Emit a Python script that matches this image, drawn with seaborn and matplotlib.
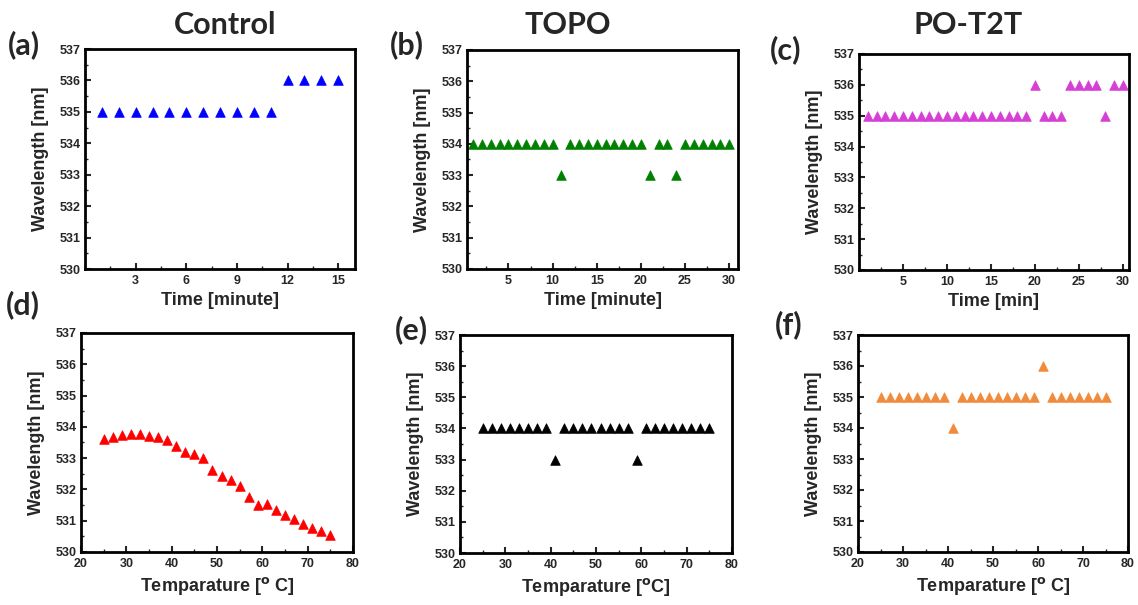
import numpy as np
import pandas as pd
import matplotlib
matplotlib.use("Agg")
import matplotlib.pyplot as plt
from matplotlib.ticker import MultipleLocator
import seaborn as sns

# ---------------- data ----------------
time_control = list(range(1, 16))
wl_control = [535]*11 + [536]*4

time_topo = list(range(1, 31))
wl_topo = [534]*10 + [533] + [534]*9 + [533] + [534, 534] + [533] + [534]*6

time_pot2t = list(range(1, 31))
wl_pot2t = [535]*19 + [536] + [535]*3 + [536]*4 + [535] + [536, 536]

temp = list(range(25, 76, 2))
wl_temp_control = [533.60, 533.68, 533.73, 533.76, 533.76, 533.72, 533.66, 533.57,
                   533.39, 533.19, 533.12, 532.99, 532.61, 532.43, 532.31, 532.11,
                   531.75, 531.51, 531.52, 531.33, 531.19, 531.04, 530.90, 530.77,
                   530.66, 530.55]
wl_temp_topo = [534]*8 + [533] + [534]*8 + [533] + [534]*8
wl_temp_pot2t = [535]*8 + [534] + [535]*9 + [536] + [535]*7

titles = ["Control", "TOPO", "PO-T2T"]
panel_labels = ["(a)", "(b)", "(c)", "(d)", "(e)", "(f)"]
xlabels = ["Time [minute]", "Time [minute]", "Time [min]",
           "Temparature [$^{\\mathrm{o}}$ C]", "Temparature [$^{\\mathrm{o}}$C]",
           "Temparature [$^{\\mathrm{o}}$ C]"]
ylabel = "Wavelength [nm]"
yticks = [530, 531, 532, 533, 534, 535, 536, 537]
xticks_control = [3, 6, 9, 12, 15]
xticks_time30 = [5, 10, 15, 20, 25, 30]
xticks_temp = [20, 30, 40, 50, 60, 70, 80]

# ---------------- style ----------------
sns.set_style("ticks")
plt.rcParams["font.family"] = ["Liberation Sans", "DejaVu Sans"]
plt.rcParams["font.weight"] = "bold"
plt.rcParams["axes.labelweight"] = "bold"

W, H = 1138, 605
fig = plt.figure(figsize=(W/100, H/100), dpi=100)

def box(l, r, t, b):
    return [l/W, 1 - b/H, (r-l)/W, (b-t)/H]

boxes = [box(85, 355, 49, 269), box(467, 738, 50, 269), box(859, 1129, 54, 270),
         box(81, 353, 333, 552), box(460, 732, 335, 553), box(858, 1128, 335, 552)]

datasets = [
    (time_control, wl_control, "#0000FF", (0, 16), xticks_control, 1.5),
    (time_topo, wl_topo, "#008000", (0.3, 31), xticks_time30, 2.5),
    (time_pot2t, wl_pot2t, "#D63FD6", (0, 30.7), xticks_time30, 2.5),
    (temp, wl_temp_control, "#FF0000", (20, 80), xticks_temp, 5),
    (temp, wl_temp_topo, "#000000", (20, 80), xticks_temp, 5),
    (temp, wl_temp_pot2t, "#F28A3C", (20, 80), xticks_temp, 5),
]

label_pos = [(8, 45), (390, 45), (770, 50), (6, 305), (395, 330), (775, 325)]
title_pos = [(225, 25), (568, 25), (968, 25)]

for i, (x, y, c, xlim, xt, mnr) in enumerate(datasets):
    ax = fig.add_axes(boxes[i])
    df = pd.DataFrame({"x": x, "y": y})
    sns.scatterplot(data=df, x="x", y="y", ax=ax, marker="^", color=c,
                    s=48, edgecolor=c, linewidth=0.5)
    ax.set_xlim(*xlim)
    ax.set_ylim(530, 537)
    ax.set_yticks(yticks)
    ax.yaxis.set_minor_locator(MultipleLocator(0.5))
    ax.set_xticks(xt)
    ax.xaxis.set_minor_locator(MultipleLocator(mnr))
    ax.set_xlim(*xlim)
    ax.tick_params(which="both", direction="in", top=False, right=False)
    ax.tick_params(which="major", length=4, width=1.5, labelsize=9)
    ax.tick_params(axis="x", which="major", pad=4)
    ax.tick_params(axis="y", which="major", pad=3)
    ax.tick_params(which="minor", length=2.5, width=1)
    for lab in ax.get_xticklabels() + ax.get_yticklabels():
        lab.set_fontweight("bold")
    for sp in ax.spines.values():
        sp.set_linewidth(2)
        sp.set_color("black")
    ax.set_xlabel(xlabels[i], fontsize=13, fontweight="bold", labelpad=4)
    ax.set_ylabel(ylabel, fontsize=13, fontweight="bold", labelpad=8)
    px, py = label_pos[i]
    fig.text(px/W, 1 - py/H, panel_labels[i], fontsize=22, fontweight="bold",
             family=["Lato", "DejaVu Sans"], ha="left", va="center")

for j, t in enumerate(titles):
    tx, ty = title_pos[j]
    fig.text(tx/W, 1 - ty/H, t, fontsize=22, fontweight="bold",
             family=["Lato", "DejaVu Sans"], ha="center", va="center")

fig.savefig("out.png", dpi=100)
